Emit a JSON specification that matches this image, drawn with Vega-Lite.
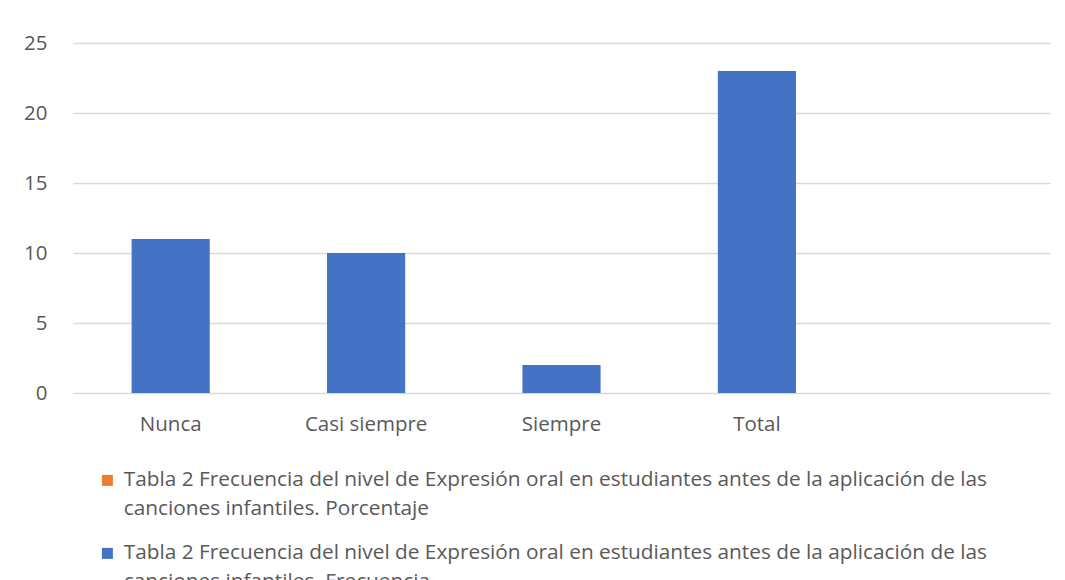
{
  "$schema": "https://vega.github.io/schema/vega-lite/v6.json",
  "width": 977,
  "height": 350,
  "padding": {"left": 23, "top": 33, "right": 15, "bottom": 0},
  "background": "white",
  "config": {
    "font": "Open Sans",
    "view": {"stroke": null},
    "axis": {"labelColor": "#595959", "labelFontSize": 20.5, "labelFont": "Open Sans", "domain": false, "ticks": false, "tickSize": 0, "title": null}
  },
  "data": {
    "values": [
      {"categoria": "Nunca", "serie": "Tabla 2 Frecuencia del nivel de Expresión oral en estudiantes antes de la aplicación de las canciones infantiles. Frecuencia", "valor": 11},
      {"categoria": "Casi siempre", "serie": "Tabla 2 Frecuencia del nivel de Expresión oral en estudiantes antes de la aplicación de las canciones infantiles. Frecuencia", "valor": 10},
      {"categoria": "Siempre", "serie": "Tabla 2 Frecuencia del nivel de Expresión oral en estudiantes antes de la aplicación de las canciones infantiles. Frecuencia", "valor": 2},
      {"categoria": "Total", "serie": "Tabla 2 Frecuencia del nivel de Expresión oral en estudiantes antes de la aplicación de las canciones infantiles. Frecuencia", "valor": 23}
    ]
  },
  "mark": {"type": "bar"},
  "encoding": {
    "x": {
      "field": "categoria",
      "type": "nominal",
      "sort": null,
      "scale": {"domain": ["Nunca", "Casi siempre", "Siempre", "Total", " "], "paddingInner": 0.6, "paddingOuter": 0.3},
      "axis": {"labelAngle": 0, "labelPadding": 21, "grid": false}
    },
    "y": {
      "field": "valor",
      "type": "quantitative",
      "scale": {"domain": [0, 25]},
      "axis": {"values": [0, 5, 10, 15, 20, 25], "grid": true, "gridColor": "#d9d9d9", "gridWidth": 1.3, "labelPadding": 26}
    },
    "color": {
      "field": "serie",
      "type": "nominal",
      "scale": {
        "domain": [
          "Tabla 2 Frecuencia del nivel de Expresión oral en estudiantes antes de la aplicación de las canciones infantiles. Porcentaje",
          "Tabla 2 Frecuencia del nivel de Expresión oral en estudiantes antes de la aplicación de las canciones infantiles. Frecuencia"
        ],
        "range": ["#ED7D31", "#4472C4"]
      },
      "legend": {
        "title": null,
        "orient": "none",
        "legendX": 24,
        "legendY": 427,
        "direction": "vertical",
        "symbolType": "square",
        "symbolSize": 121,
        "symbolStrokeWidth": 0,
        "labelFontSize": 20.8,
        "labelColor": "#595959",
        "labelLimit": 2000,
        "rowPadding": 22,
        "labelOffset": 6,
        "labelExpr": "split(replace(datum.label, 'las canciones', 'las|canciones'), '|')",
        "encode": {"labels": {"update": {"lineHeight": {"value": 29}}}}
      }
    }
  }
}
